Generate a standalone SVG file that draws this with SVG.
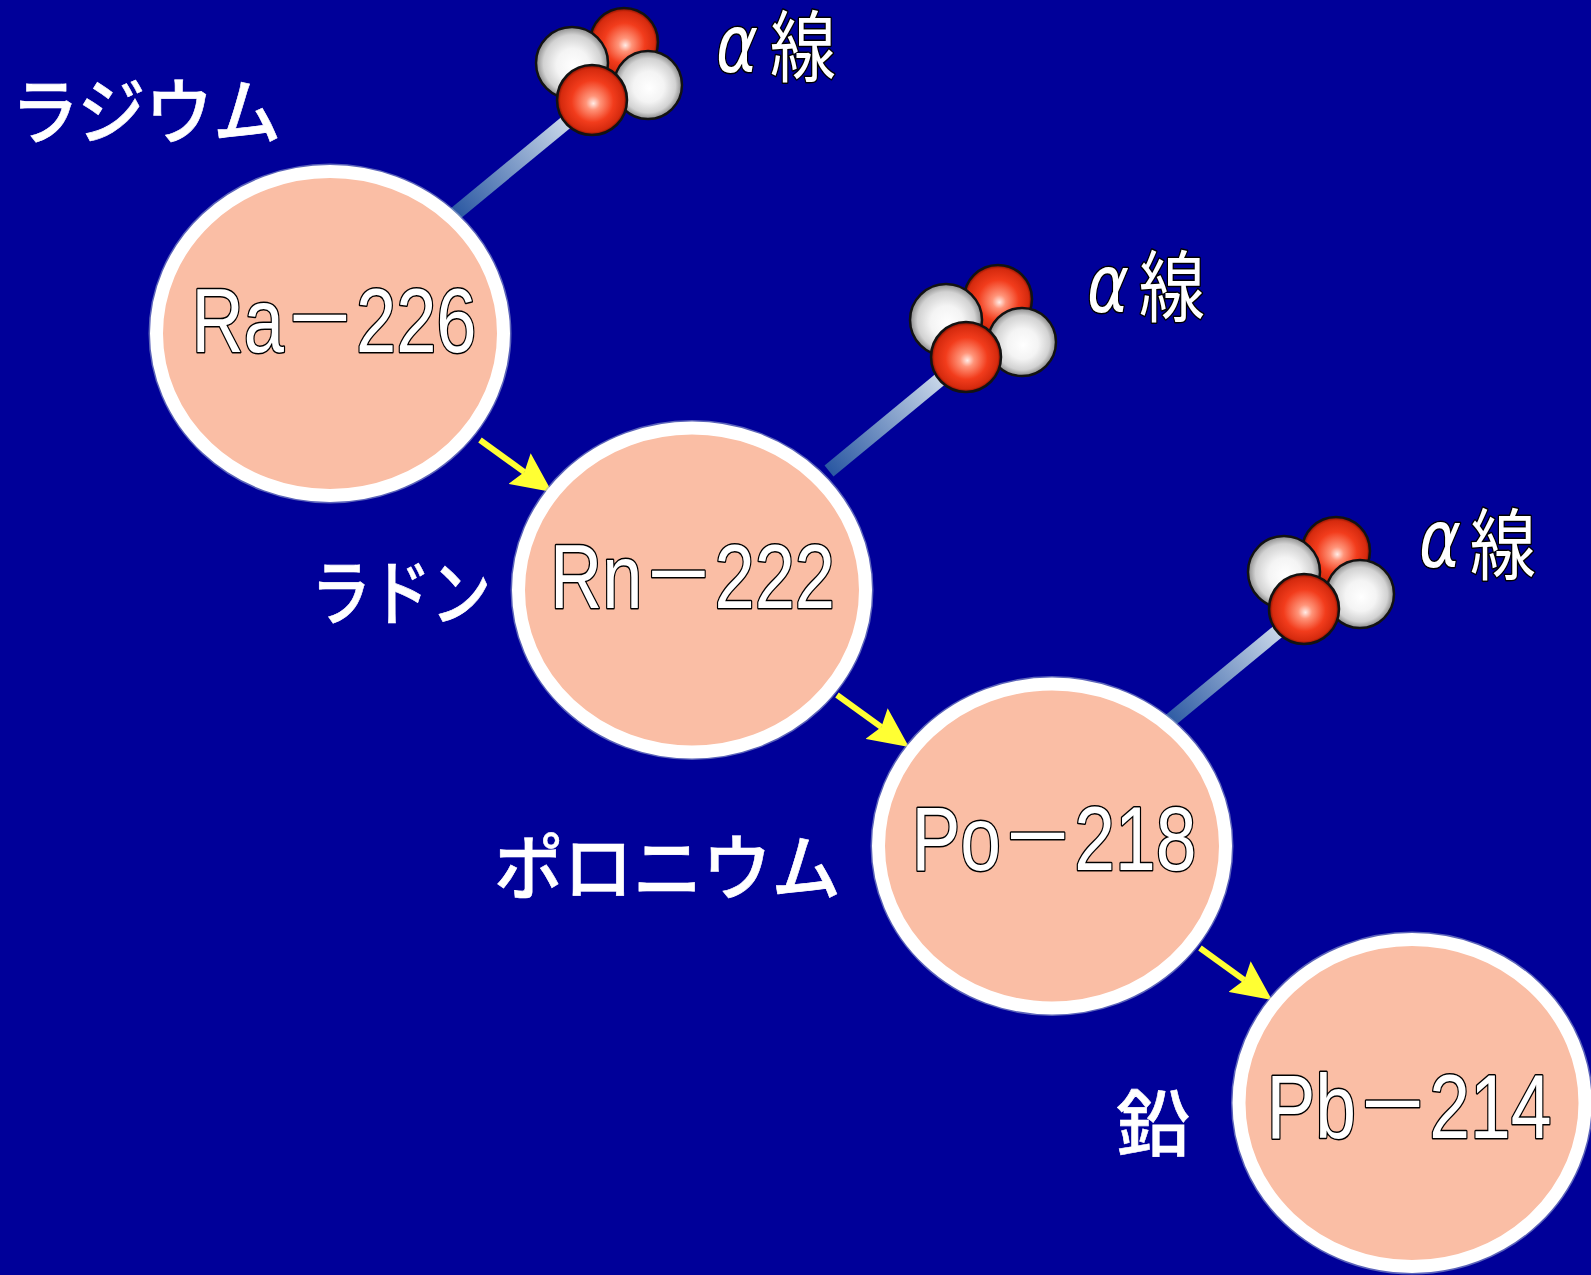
<svg xmlns="http://www.w3.org/2000/svg" xmlns:xlink="http://www.w3.org/1999/xlink" width="1591" height="1275" viewBox="0 0 1591 1275">
  <style>
    .nucleus { fill: #FABEA5; stroke: #FFFFFF; stroke-width: 13; }
    .halo { fill: none; stroke: #9AA6D0; stroke-width: 3; opacity: 0.6; }
    .iso { font-family: "Liberation Sans", "Noto Sans CJK JP", sans-serif; font-size: 91px; fill: #FFFFFF; stroke: #000000; stroke-width: 3; paint-order: stroke; stroke-linejoin: round; }
    .name { font-family: "Noto Sans CJK JP", sans-serif; font-weight: 500; font-size: 72px; fill: #FFFFFF; stroke: #FFFFFF; stroke-width: 0.6; }
    .ray { font-family: "Noto Sans CJK JP", sans-serif; font-size: 78px; fill: #FFFFFF; stroke: #000000; stroke-width: 3; paint-order: stroke; stroke-linejoin: round; }
    .alpha { font-family: "DejaVu Sans", sans-serif; font-style: italic; font-size: 80px; fill: #FFFFFF; stroke: #000000; stroke-width: 3; paint-order: stroke; stroke-linejoin: round; }
    .decay { stroke: #FFFF33; stroke-width: 6; fill: none; marker-end: url(#head); }
    .sphere { stroke: #121212; stroke-width: 2.5; }
  </style>
  <defs>
    <radialGradient id="protonFill" cx="0.5" cy="0.5" r="0.5" fx="0.52" fy="0.55">
      <stop offset="0" stop-color="#FFECE6"/>
      <stop offset="0.2" stop-color="#FF9479"/>
      <stop offset="0.6" stop-color="#F23C1C"/>
      <stop offset="0.9" stop-color="#D52A0E"/>
      <stop offset="1" stop-color="#7A1000"/>
    </radialGradient>
    <radialGradient id="neutronFill" cx="0.5" cy="0.5" r="0.5" fx="0.52" fy="0.55">
      <stop offset="0" stop-color="#FFFFFF"/>
      <stop offset="0.45" stop-color="#F4F4F4"/>
      <stop offset="0.8" stop-color="#D2D2D2"/>
      <stop offset="1" stop-color="#8A8A8A"/>
    </radialGradient>
    <linearGradient id="trail" gradientUnits="userSpaceOnUse" x1="455" y1="214" x2="575" y2="115">
      <stop offset="0" stop-color="#2A58A2"/>
      <stop offset="1" stop-color="#D4E0EE"/>
    </linearGradient>
    <marker id="head" viewBox="0 0 40 38" refX="6" refY="19" markerWidth="40" markerHeight="38" markerUnits="userSpaceOnUse" orient="auto">
      <path d="M0,0 L40,19 L0,38 L6,19 Z" fill="#FFFF33"/>
    </marker>
    <!-- helium nucleus with its trail, drawn at the first emission point -->
    <g id="heliumNucleus">
      <line x1="455" y1="214" x2="575" y2="115" stroke="url(#trail)" stroke-width="14"/>
      <circle class="sphere" cx="624" cy="42" r="34" fill="url(#protonFill)"/>
      <circle class="sphere" cx="572" cy="63" r="36" fill="url(#neutronFill)"/>
      <circle class="sphere" cx="648" cy="85" r="34" fill="url(#neutronFill)"/>
      <circle class="sphere" cx="592" cy="100" r="35" fill="url(#protonFill)"/>
    </g>
  </defs>

  <rect width="1591" height="1275" fill="#000099"/>

  <!-- emitted alpha particles -->
  <g id="emission-1">
    <use xlink:href="#heliumNucleus"/>
    <text class="alpha" x="716" y="72" textLength="42" lengthAdjust="spacingAndGlyphs">α</text>
    <text class="ray" x="770" y="76" textLength="66" lengthAdjust="spacingAndGlyphs">線</text>
  </g>
  <g id="emission-2">
    <use xlink:href="#heliumNucleus" transform="translate(374 257)"/>
    <text class="alpha" x="1087" y="312" textLength="42" lengthAdjust="spacingAndGlyphs">α</text>
    <text class="ray" x="1139" y="316" textLength="66" lengthAdjust="spacingAndGlyphs">線</text>
  </g>
  <g id="emission-3">
    <use xlink:href="#heliumNucleus" transform="translate(712 509)"/>
    <text class="alpha" x="1419" y="567" textLength="42" lengthAdjust="spacingAndGlyphs">α</text>
    <text class="ray" x="1470" y="574" textLength="66" lengthAdjust="spacingAndGlyphs">線</text>
  </g>

  <!-- decay arrows -->
  <g id="connectors">
    <line class="decay" x1="480" y1="440" x2="524.4" y2="472.1"/>
    <line class="decay" x1="837" y1="695" x2="881.4" y2="727.1"/>
    <line class="decay" x1="1200" y1="948" x2="1244.4" y2="980.1"/>
  </g>

  <!-- nuclides -->
  <g id="ra226">
    <ellipse class="halo" cx="330" cy="333.5" rx="180" ry="168.5"/>
    <ellipse class="nucleus" cx="330" cy="333.5" rx="173.5" ry="162"/>
    <text class="iso" x="334" y="352" text-anchor="middle" textLength="285" lengthAdjust="spacingAndGlyphs">Ra－226</text>
    <text class="name" x="11" y="138" textLength="270" lengthAdjust="spacingAndGlyphs">ラジウム</text>
  </g>
  <g id="rn222">
    <ellipse class="halo" cx="692" cy="590" rx="180" ry="168.5"/>
    <ellipse class="nucleus" cx="692" cy="590" rx="173.5" ry="162"/>
    <text class="iso" x="692.5" y="608" text-anchor="middle" textLength="285" lengthAdjust="spacingAndGlyphs">Rn－222</text>
    <text class="name" x="311" y="619" textLength="180" lengthAdjust="spacingAndGlyphs">ラドン</text>
  </g>
  <g id="po218">
    <ellipse class="halo" cx="1052" cy="846" rx="180" ry="168.5"/>
    <ellipse class="nucleus" cx="1052" cy="846" rx="173.5" ry="162"/>
    <text class="iso" x="1054" y="870" text-anchor="middle" textLength="285" lengthAdjust="spacingAndGlyphs">Po－218</text>
    <text class="name" x="494" y="894" textLength="347" lengthAdjust="spacingAndGlyphs">ポロニウム</text>
  </g>
  <g id="pb214">
    <ellipse class="halo" cx="1412" cy="1103" rx="179.5" ry="170"/>
    <ellipse class="nucleus" cx="1412" cy="1103" rx="173" ry="163.5"/>
    <text class="iso" x="1409" y="1138" text-anchor="middle" textLength="285" lengthAdjust="spacingAndGlyphs">Pb－214</text>
    <text class="name" x="1116" y="1150" textLength="74" lengthAdjust="spacingAndGlyphs">鉛</text>
  </g>
</svg>
